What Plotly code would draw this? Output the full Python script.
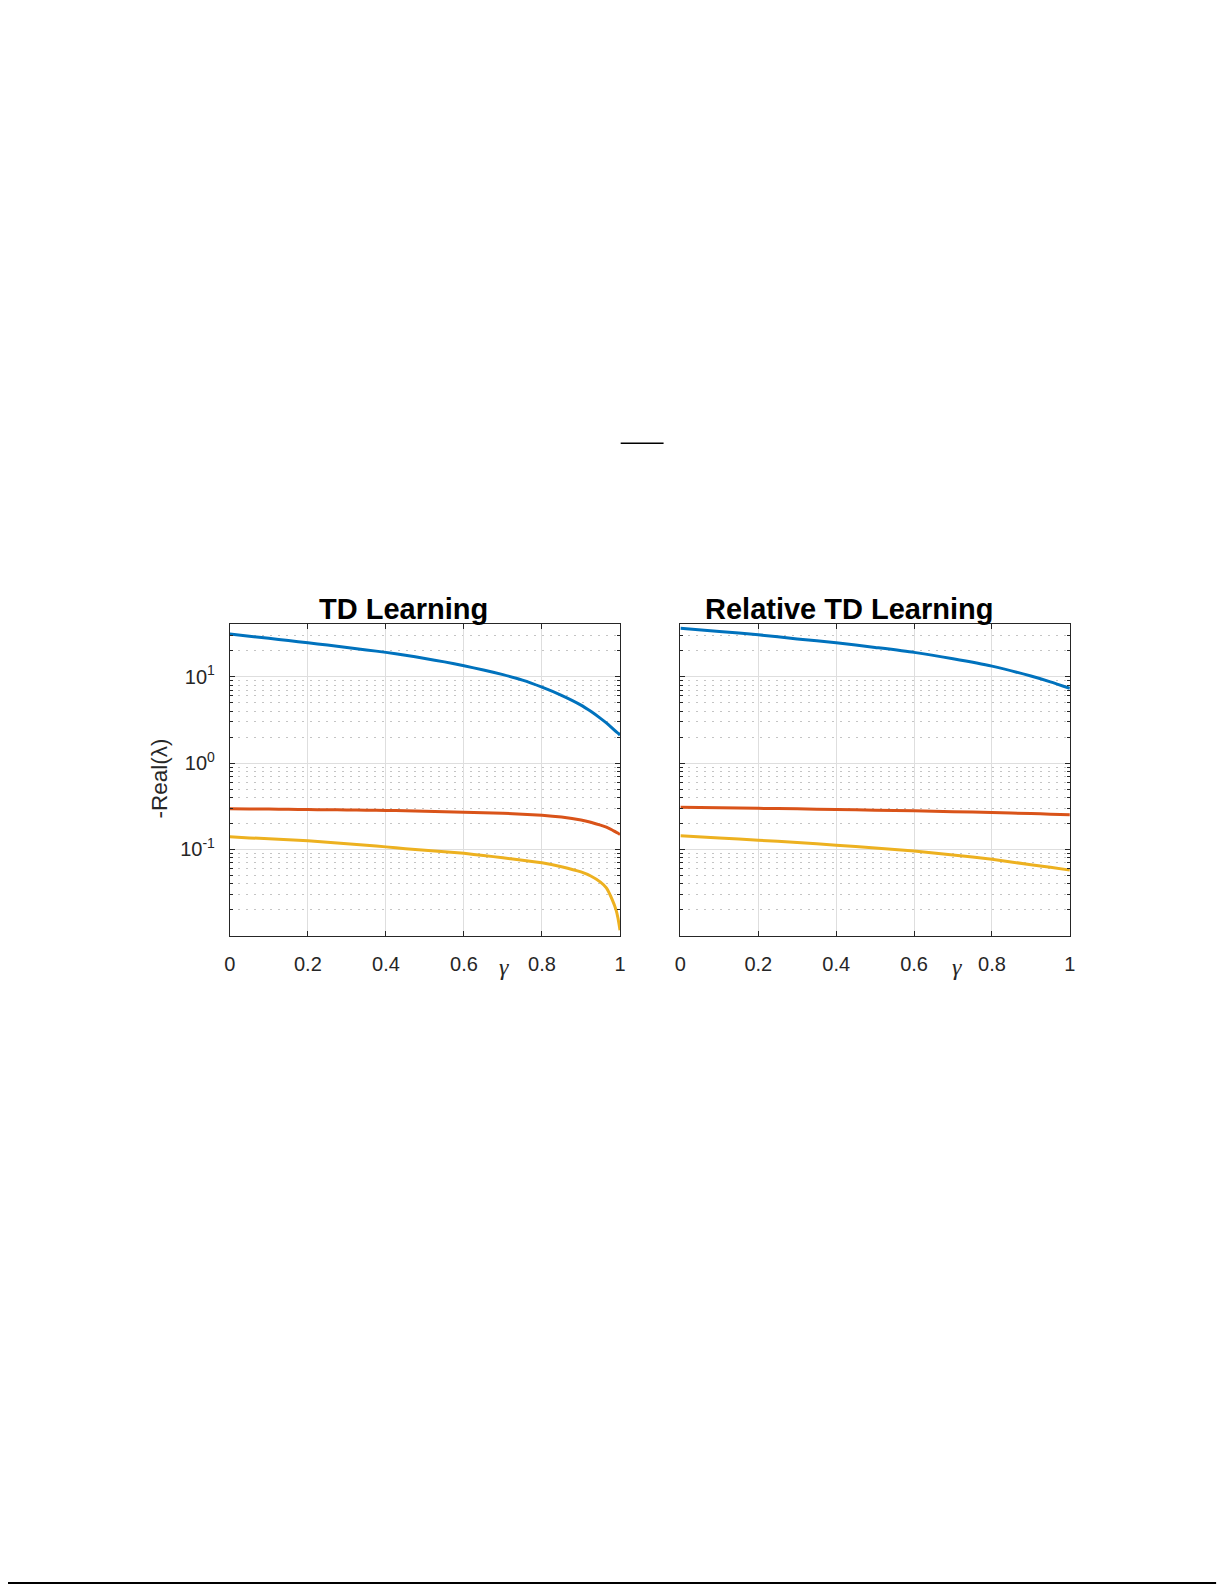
import plotly.graph_objects as go

# page size (pixels); the html body adds an 8px margin, so page coords are shifted back by it
W, H = 1225, 1585
OFF = 8

# ---- data ----
gamma_td = [0, 0.05, 0.1, 0.15, 0.2, 0.25, 0.3, 0.35, 0.4, 0.45, 0.5, 0.55, 0.6, 0.65, 0.7, 0.75,
            0.8, 0.85, 0.9, 0.925, 0.95, 0.965, 0.98, 0.99, 0.995, 1.0]
blue_td = [31.3, 29.5, 27.9, 26.3, 24.8, 23.3, 21.9, 20.5, 19.2, 17.8, 16.3, 14.9, 13.4, 12.0,
           10.6, 9.16, 7.59, 6.10, 4.70, 3.98, 3.30, 2.92, 2.55, 2.32, 2.22, 2.11]
red_td = [0.295, 0.294, 0.293, 0.291, 0.290, 0.288, 0.287, 0.285, 0.283, 0.280, 0.277, 0.274,
          0.270, 0.266, 0.262, 0.256, 0.249, 0.237, 0.219, 0.206, 0.191, 0.181, 0.168, 0.158,
          0.154, 0.149]
yellow_td = [0.140, 0.136, 0.133, 0.129, 0.126, 0.121, 0.116, 0.112, 0.107, 0.102, 0.098, 0.094,
             0.090, 0.085, 0.080, 0.075, 0.070, 0.0630, 0.0548, 0.0492, 0.0418, 0.0358, 0.0262,
             0.0198, 0.0158, 0.0116]

gamma_rel = [0, 0.1, 0.2, 0.3, 0.4, 0.5, 0.6, 0.7, 0.8, 0.9, 0.95, 1.0]
blue_rel = [36.6, 33.6, 30.7, 27.5, 24.8, 21.9, 19.2, 16.2, 13.3, 10.2, 8.75, 7.35]
red_rel = [0.307, 0.303, 0.299, 0.295, 0.290, 0.285, 0.280, 0.274, 0.268, 0.260, 0.256, 0.252]
yellow_rel = [0.144, 0.136, 0.128, 0.120, 0.112, 0.104, 0.0957, 0.0862, 0.0767, 0.0665, 0.0620, 0.0575]

titles = ["TD Learning", "Relative TD Learning"]
x_ticks = [0, 0.2, 0.4, 0.6, 0.8, 1]
x_ticklabels = ["0", "0.2", "0.4", "0.6", "0.8", "1"]
y_ticks = [0.1, 1, 10]
y_ticklabels = ["10<sup>-1</sup>", "10<sup>0</sup>", "10<sup>1</sup>"]
y_minor = [0.02, 0.03, 0.04, 0.05, 0.06, 0.07, 0.08, 0.09,
           0.2, 0.3, 0.4, 0.5, 0.6, 0.7, 0.8, 0.9,
           2, 3, 4, 5, 6, 7, 8, 9, 20, 30]

colors = ["#0072BD", "#D95319", "#EDB120"]
FONT = "Liberation Sans, Arial, Helvetica, sans-serif"
AX = "#262626"


def px(x):
    return (x - OFF) / W


def py(y):
    return 1 - (y - OFF) / H


fig = go.Figure()

for vals, c in zip([blue_td, red_td, yellow_td], colors):
    fig.add_trace(go.Scatter(x=gamma_td, y=vals, mode="lines", xaxis="x", yaxis="y",
                             line=dict(color=c, width=3, shape="spline", smoothing=0.35)))
for vals, c in zip([blue_rel, red_rel, yellow_rel], colors):
    fig.add_trace(go.Scatter(x=gamma_rel, y=vals, mode="lines", xaxis="x2", yaxis="y2",
                             line=dict(color=c, width=3, shape="spline", smoothing=0.6)))

xax = dict(range=[0, 1], tickvals=x_ticks, ticktext=x_ticklabels, ticks="inside", ticklen=5,
           tickcolor=AX, showline=True, linecolor=AX, linewidth=1, mirror="ticks",
           showgrid=True, gridcolor="#dedede", gridwidth=1, zeroline=False,
           tickfont=dict(family=FONT, size=20, color=AX), ticklabelstandoff=10)
yax = dict(type="log", range=[-2.0, 1.612], tickvals=y_ticks, ticktext=y_ticklabels,
           ticks="inside", ticklen=5, tickcolor=AX, showline=True, linecolor=AX, linewidth=1,
           mirror="ticks", showgrid=True, gridcolor="#dedede", gridwidth=1, zeroline=False,
           tickfont=dict(family=FONT, size=20, color=AX), ticklabelstandoff=10,
           minor=dict(tickvals=y_minor, ticks="inside", ticklen=3, tickcolor=AX,
                      showgrid=True, gridcolor="#c4c4c4", griddash="2px,6px", gridwidth=1))

y_dom = [py(935.7), py(624)]
fig.update_layout(
    width=W, height=H,
    margin=dict(l=0, r=0, t=0, b=0),
    paper_bgcolor="white", plot_bgcolor="white",
    showlegend=False,
    xaxis=dict(xax, domain=[px(226), px(620)], anchor="y"),
    xaxis2=dict(xax, domain=[px(681), px(1074.3)], anchor="y2"),
    yaxis=dict(yax, domain=y_dom, anchor="x"),
    yaxis2=dict(yax, domain=y_dom, anchor="x2", showticklabels=False),
)

# titles
for t, cx in zip(titles, [401.7, 851.7]):
    fig.add_annotation(text="<b>%s</b>" % t, x=px(cx), y=py(609), xref="paper", yref="paper",
                       xanchor="center", yanchor="middle", showarrow=False,
                       font=dict(family=FONT, size=29, color="black"))

# gamma x labels
for cx in [503, 960]:
    fig.add_annotation(text="<i>γ</i>", x=px(cx), y=py(967), xref="paper", yref="paper",
                       xanchor="center", yanchor="middle", showarrow=False,
                       font=dict(family="Liberation Serif, serif", size=24, color=AX))

# y label
fig.add_annotation(text="-Real(λ)", x=px(154), y=py(779), xref="paper", yref="paper",
                   xanchor="center", yanchor="middle", showarrow=False, textangle=-90,
                   font=dict(family=FONT, size=22.5, color=AX))

# page marks
fig.add_shape(type="line", xref="paper", yref="paper", x0=px(620.7), x1=px(664),
              y0=py(443.3), y1=py(443.3), line=dict(color="black", width=1.5))
fig.add_shape(type="line", xref="paper", yref="paper", x0=px(0), x1=px(1222),
              y0=py(1583), y1=py(1583), line=dict(color="black", width=2))

fig.write_html("out.html")
